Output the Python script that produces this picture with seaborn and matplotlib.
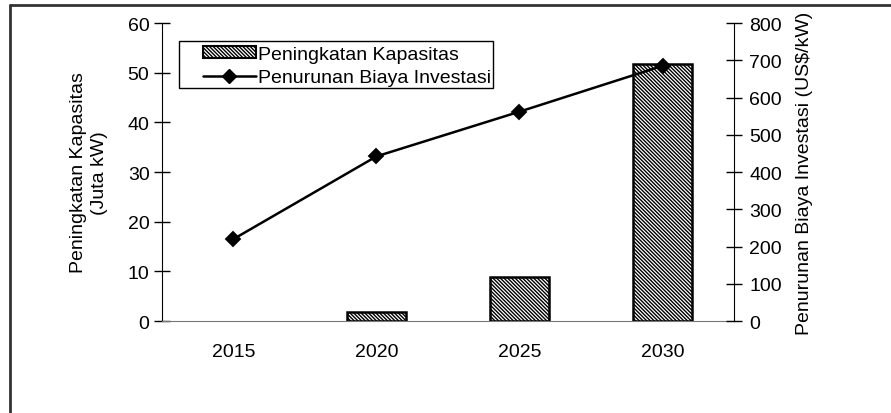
import matplotlib
matplotlib.use('Agg')
import matplotlib.pyplot as plt
import seaborn as sns
import pandas as pd
from matplotlib.lines import Line2D
from matplotlib.patches import Patch, Rectangle

# Data
years = ['2015', '2020', '2025', '2030']
kapasitas = [0.0, 1.8, 8.8, 51.7]          # Juta kW
biaya = [220, 442, 562, 685]               # US$/kW

df = pd.DataFrame({'Tahun': years, 'Kapasitas': kapasitas, 'Biaya': biaya})

sns.set_style('white')
plt.rcParams['font.family'] = ['Liberation Sans', 'DejaVu Sans']
plt.rcParams['font.size'] = 14
plt.rcParams['hatch.linewidth'] = 1.0
plt.rcParams['text.color'] = 'black'
plt.rcParams['axes.labelcolor'] = 'black'
plt.rcParams['xtick.color'] = 'black'
plt.rcParams['ytick.color'] = 'black'

HATCH = '\\' * 9

fig = plt.figure(figsize=(8.91, 4.14), dpi=100)
ax = fig.add_axes([0.1818, 0.2222, 0.8238 - 0.1818, 0.942 - 0.2222])

# bars (capacity)
sns.barplot(data=df, x='Tahun', y='Kapasitas', ax=ax, color='white',
            edgecolor='black', linewidth=1.8, width=0.41, order=years)
for p in ax.patches:
    p.set_hatch(HATCH)
    if p.get_height() == 0:
        p.set_visible(False)

ax.set_xlim(-0.5, 3.5)
ax.set_ylim(0, 60)
ax.set_yticks(range(0, 61, 10))
ax.set_ylabel('Peningkatan Kapasitas\n(Juta kW)', fontsize=14, labelpad=14,
              linespacing=1.3)
ax.set_xlabel('')

# line (investment cost) on right axis
ax2 = ax.twinx()
sns.pointplot(data=df, x='Tahun', y='Biaya', ax=ax2, color='black',
              markers='D', markersize=7, linewidth=1.8, order=years)
ax2.set_xlim(-0.5, 3.5)
ax2.set_ylim(0, 800)
ax2.set_yticks(range(0, 801, 100))
ax2.set_ylabel('Penurunan Biaya Investasi (US$/kW)', fontsize=14, labelpad=10)
ax2.set_xlabel('')

# spines and ticks like the original
for a in (ax, ax2):
    a.spines['top'].set_visible(False)
    a.spines['left'].set_color('black')
    a.spines['right'].set_color('black')
    a.spines['bottom'].set_color('#777777')
ax.spines['right'].set_visible(False)
ax2.spines['left'].set_visible(False)
ax2.spines['bottom'].set_visible(False)

ax.tick_params(axis='y', direction='inout', length=12, width=1, colors='black', pad=3)
ax2.tick_params(axis='y', direction='inout', length=12, width=1, colors='black', pad=5)
ax.set_xticks([0, 1, 2, 3])
ax.set_xticklabels(years)
ax.set_xticks([-0.5, 0.5, 1.5, 2.5, 3.5], minor=True)
ax.tick_params(axis='x', which='major', length=0, pad=16, labelcolor='black')
ax.tick_params(axis='x', which='minor', direction='inout', length=12, width=1, color='#555555')

# legend (frame drawn separately so the padding matches)
handles = [Patch(facecolor='white', edgecolor='black', hatch=HATCH, linewidth=1.5),
           Line2D([0], [0], color='black', marker='D', markersize=7, linewidth=1.8)]
fig.legend(handles, ['Peningkatan Kapasitas', 'Penurunan Biaya Investasi'],
           loc='upper left', bbox_to_anchor=(203 / 891, 1 - 47 / 414),
           frameon=False, borderpad=0.0, borderaxespad=0.0,
           labelspacing=0.32, handlelength=2.7, handleheight=0.55,
           handletextpad=0.15, fontsize=14)
fig.add_artist(Rectangle((179 / 891, 1 - 89 / 414), 314 / 891, 47 / 414,
                         transform=fig.transFigure, fill=False,
                         edgecolor='black', linewidth=1))

# outer frame (cut at right and bottom as in the original)
fig.add_artist(Line2D([0.0112, 0.0112], [0.986, 0.0], color='#333333', linewidth=2,
                      transform=fig.transFigure))
fig.add_artist(Line2D([0.0112, 1.0], [0.986, 0.986], color='#333333', linewidth=2,
                      transform=fig.transFigure))

fig.savefig('out.png', dpi=100)
